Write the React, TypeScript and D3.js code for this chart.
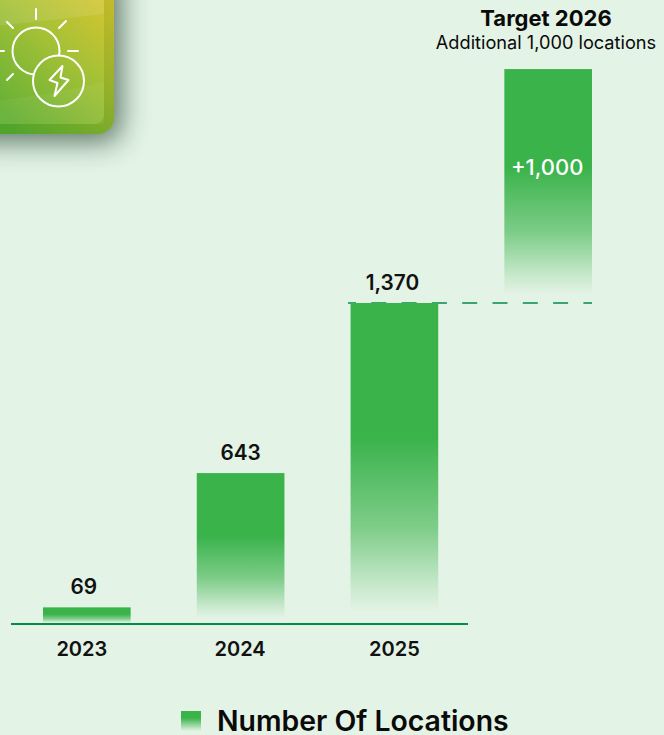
import React from "react";
import * as d3 from "d3";

const years = ["2023", "2024", "2025"];
const locations = [69, 643, 1370];
const valueLabels = ["69", "643", "1,370"];
const valueNudges = [-3, 0, -2];
const yearNudges = [-5, -0.5, 0];
const targetYear = "2026";
const targetAddition = 1000;
const legendLabel = "Number Of Locations";

const WIDTH = 664;
const HEIGHT = 735;
const BASELINE = 623.5;
const FONT = "Inter, 'Noto Sans', sans-serif";
const BG = "#e3f3e5";
const GREEN = "#3ab34b";
const RULE = "#068a49";

const y = d3.scaleLinear().domain([0, 1370]).range([BASELINE, 303]);
const x = d3
  .scaleBand<string>()
  .domain([...years, targetYear])
  .range([43, 592])
  .paddingInner(0.43)
  .paddingOuter(0);

// Sun rays radiating from the icon's sun disc
const rays: [number, number, number, number][] = [
  [36, 9, 36, 19],
  [59, 28, 66, 21],
  [68, 51, 78, 51],
  [-6, 51, 4, 51],
  [7, 22, 13, 28],
  [7, 80, 13, 74],
];

function Icon() {
  return (
    <g>
      <rect x={-40} y={-40} width={154} height={174} rx={16} fill="#1f3b2a" opacity={0.68} filter="url(#tileShadow)" transform="translate(7,8)" />
      <rect x={-40} y={-40} width={154} height={174} rx={16} fill="url(#tileRim)" />
      <rect x={-40} y={-40} width={144} height={164} rx={9} fill="url(#tileFace)" />
      <path d="M-40 30 C 10 24 55 20 104 14 L104 -40 L-40 -40 Z" fill="#fff" opacity={0.1} />
      <path d="M-40 104 C 20 100 60 92 104 82 L104 124 L-40 124 Z" fill="#fff" opacity={0.05} />
      <g fill="none" stroke="#fff" strokeWidth={2} strokeLinecap="round" strokeLinejoin="round">
        {rays.map(([a, b, c, e], i) => (
          <line key={i} x1={a} y1={b} x2={c} y2={e} />
        ))}
        <circle cx={36} cy={51} r={23.5} mask="url(#sunCut)" />
        <circle cx={58.5} cy={81} r={25.5} />
        <path d="M62.5 66 L49.5 80 L57.5 83 L54.5 96 L68.5 80 L60.5 77.5 Z" />
      </g>
    </g>
  );
}

export default function App() {
  const bw = x.bandwidth();
  const targetX = x(targetYear) as number;
  const targetTop = y(1370 + targetAddition);
  return (
    <svg
      width={WIDTH}
      height={HEIGHT}
      viewBox={`0 0 ${WIDTH} ${HEIGHT}`}
      style={{ position: "absolute", left: 0, top: 0, background: BG, fontFamily: FONT }}
    >
      <defs>
        <linearGradient id="barFade" x1="0" y1="0" x2="0" y2="1">
          <stop offset="0.42" stopColor={GREEN} />
          <stop offset="0.7" stopColor={GREEN} stopOpacity={0.6} />
          <stop offset="0.88" stopColor={GREEN} stopOpacity={0.17} />
          <stop offset="0.96" stopColor={GREEN} stopOpacity={0} />
        </linearGradient>
        <linearGradient id="tileRim" x1="1" y1="0" x2="0.35" y2="1">
          <stop offset="0" stopColor="#d8bf2a" />
          <stop offset="0.55" stopColor="#94b02a" />
          <stop offset="1" stopColor="#50a42b" />
        </linearGradient>
        <linearGradient id="tileFace" x1="1" y1="0.15" x2="0.35" y2="1">
          <stop offset="0" stopColor="#dcc62f" />
          <stop offset="0.45" stopColor="#a6c136" />
          <stop offset="1" stopColor="#62b035" />
        </linearGradient>
        <linearGradient id="legendFade" x1="0" y1="0" x2="0" y2="1">
          <stop offset="0.35" stopColor={GREEN} />
          <stop offset="1" stopColor={GREEN} stopOpacity={0} />
        </linearGradient>
        <filter id="tileShadow" x="-40%" y="-40%" width="180%" height="180%">
          <feGaussianBlur stdDeviation={14} />
        </filter>
        <mask id="sunCut" maskUnits="userSpaceOnUse" x={-10} y={0} width={120} height={120}>
          <rect x={-10} y={0} width={120} height={120} fill="#fff" />
          <circle cx={58.5} cy={81} r={25.5} fill="#000" />
        </mask>
      </defs>

      <Icon />

      <line x1={348} x2={592} y1={303} y2={303} stroke={RULE} strokeWidth={1.6} strokeDasharray="15 15.3" strokeDashoffset={7} />

      {years.map((yr, i) => {
        const left = x(yr) as number;
        const top = y(locations[i]);
        return (
          <g key={yr}>
            <rect x={left} y={top} width={bw} height={BASELINE - top} fill="url(#barFade)" />
            <text x={left + bw / 2 + valueNudges[i]} y={top - 13} textAnchor="middle" fontSize={20.8} fontWeight={600} fill="#111">
              {valueLabels[i]}
            </text>
            <text x={left + bw / 2 + yearNudges[i]} y={656} textAnchor="middle" fontSize={20} fontWeight={600} fill="#111">
              {yr}
            </text>
          </g>
        );
      })}

      <rect x={targetX} y={targetTop} width={bw} height={y(1370) - targetTop} fill="url(#barFade)" />
      <text x={targetX + bw / 2 - 1} y={175} textAnchor="middle" fontSize={22} fontWeight={500} fill="#fff">
        +{d3.format(",")(targetAddition)}
      </text>
      <text x={546} y={26} textAnchor="middle" fontSize={22} fontWeight={700} fill="#0a0a0a">
        Target {targetYear}
      </text>
      <text x={546} y={49} textAnchor="middle" fontSize={18.2} fontWeight={400} fill="#0a0a0a">
        Additional 1,000 locations
      </text>

      <line x1={11} x2={468} y1={624} y2={624} stroke={RULE} strokeWidth={2} />

      <rect x={181} y={711} width={20} height={20} fill="url(#legendFade)" />
      <text x={217} y={731} fontSize={28.4} fontWeight={600} fill="#0a0a0a">
        {legendLabel}
      </text>
    </svg>
  );
}
